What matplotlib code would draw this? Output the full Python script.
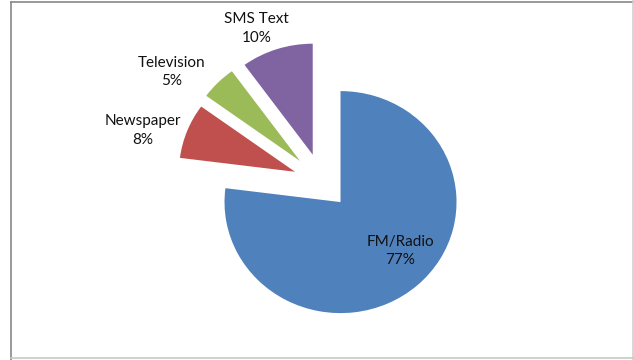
import matplotlib
matplotlib.use("Agg")
import matplotlib.pyplot as plt
from matplotlib.lines import Line2D

# media share of respondents
sources = ["FM/Radio", "Newspaper", "Television", "SMS Text"]
shares = [77, 8, 5, 10]
colors = ["#4F81BD", "#C0504D", "#9BBB59", "#8064A2"]

# label anchor spots (pixels, y measured from top of the image)
label_xy = [(400, 251), (142.5, 130.5), (171.5, 72), (256.5, 28.5)]

W, H = 634, 360
K = 116 / 111  # pie is drawn slightly squashed vertically

fig = plt.figure(figsize=(W / 100, H / 100), dpi=100)
ax = fig.add_axes([0, 0, 1, 1])

# pie explode is in data units here, not a fraction of the radius
wedges, _ = ax.pie(shares, colors=colors, startangle=90, counterclock=False,
                   center=(322, (H - 182) * K), radius=116,
                   explode=[28, 29, 31, 30],
                   wedgeprops=dict(linewidth=0))
ax.set_xlim(0, W)
ax.set_ylim(0, H * K)
ax.set_aspect("auto")
ax.axis("off")

for name, val, (x, y) in zip(sources, shares, label_xy):
    ax.text(x, (H - y) * K, f"{name}\n{val}%", ha="center", va="center",
            fontsize=11, family=["Lato", "DejaVu Sans"],
            color="#111111", linespacing=1.45)

# chart frame
fig.add_artist(Line2D([10.5 / W, 10.5 / W], [0, 1 - 1.5 / H], color="#888888", lw=1.2))
fig.add_artist(Line2D([10.5 / W, 1], [1 - 1.5 / H, 1 - 1.5 / H], color="#888888", lw=1.2))
fig.add_artist(Line2D([1 - 1.5 / W, 1 - 1.5 / W], [0, 1], color="#d0d0d0", lw=1.2))
fig.add_artist(Line2D([10.5 / W, 1], [2.5 / H, 2.5 / H], color="#c8c8c8", lw=1.2))

fig.savefig("out.png", dpi=100)
